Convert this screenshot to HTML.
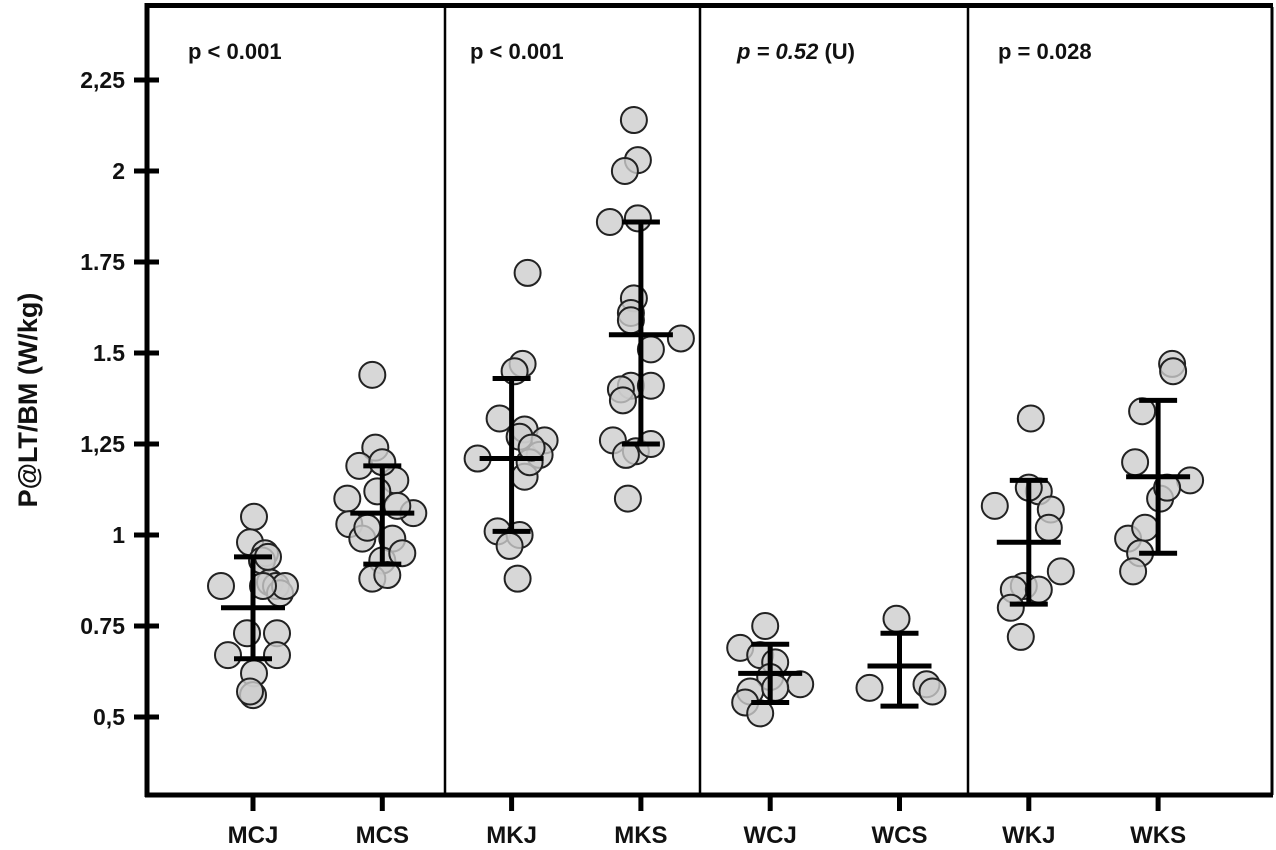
<!DOCTYPE html>
<html><head><meta charset="utf-8"><style>
html,body{margin:0;padding:0;background:#fff}
svg{display:block;font-family:"Liberation Sans",Arial,sans-serif}
</style></head><body>
<svg id="chart" width="1276" height="850" viewBox="0 0 1276 850" xmlns="http://www.w3.org/2000/svg">
<g id="frame"></g>
<g id="marks"></g>
<text transform="translate(37,400) rotate(-90)" text-anchor="middle" font-size="27" font-weight="bold" fill="#111">P@LT/BM (W/kg)</text>
<text x="188" y="59" font-size="22" font-weight="bold" fill="#111">p &lt; 0.001</text>
<text x="470" y="59" font-size="22" font-weight="bold" fill="#111">p &lt; 0.001</text>
<text x="737" y="59" font-size="22" font-weight="bold" fill="#111"><tspan font-style="italic">p = 0.52</tspan> (U)</text>
<text x="998" y="59" font-size="22" font-weight="bold" fill="#111">p = 0.028</text>
</svg>
<script>
const categories = ["MCJ","MCS","MKJ","MKS","WCJ","WCS","WKJ","WKS"];
const yTicks = [0.5,0.75,1,1.25,1.5,1.75,2,2.25];
const yTickLabels = ["0,5","0.75","1","1,25","1.5","1.75","2","2,25"];
const means = [0.80,1.06,1.21,1.55,0.62,0.64,0.98,1.16];
const sdLow = [0.66,0.92,1.01,1.25,0.54,0.53,0.81,0.95];
const sdHigh = [0.94,1.19,1.43,1.86,0.70,0.73,1.15,1.37];
const ptsMCJ = [1.05,0.98,0.95,0.93,0.87,0.86,0.86,0.84,0.86,0.73,0.73,0.67,0.67,0.62,0.56,0.57,0.94,0.86];
const jitMCJ = [1,-3,12,9,17,-32,23,27,32,-6,24,-25,24,1,0,-3,15,10];
const ptsMCS = [1.44,1.24,1.19,1.15,1.10,1.06,1.03,1.12,0.99,0.93,0.88,0.89,0.99,1.20,1.08,0.95,1.02];
const jitMCS = [-10,-7,-23,13,-35,31,-33,-5,10,0,-10,5,-20,0,15,20,-15];
const ptsMKJ = [1.72,1.47,1.45,1.32,1.29,1.21,1.27,1.26,1.22,1.16,1.20,1.01,1.00,0.97,0.88,1.24];
const jitMKJ = [16,11,3,-12,13,-34,8,33,28,13,18,-14,8,-2,6,20];
const ptsMKS = [2.14,2.03,2.00,1.86,1.87,1.65,1.61,1.59,1.54,1.51,1.41,1.41,1.40,1.37,1.26,1.23,1.25,1.22,1.10];
const jitMKS = [-7,-3,-16,-31,-3,-7,-10,-10,40,10,-10,10,-20,-18,-28,-5,10,-15,-13];
const ptsWCJ = [0.75,0.69,0.67,0.65,0.61,0.59,0.57,0.54,0.51,0.58];
const jitWCJ = [-5,-30,-10,5,0,30,-20,-25,-10,5];
const ptsWCS = [0.77,0.58,0.59,0.57];
const jitWCS = [-3,-30,27,33];
const ptsWKJ = [1.32,1.08,1.12,1.07,1.02,0.90,0.86,0.85,0.85,0.80,0.72,1.13];
const jitWKJ = [2,-34,10,22,20,32,-5,-15,10,-18,-8,0];
const ptsWKS = [1.47,1.45,1.34,1.20,1.10,1.15,1.13,0.99,1.02,0.95,0.90];
const jitWKS = [14,15,-16,-23,2,32,9,-30,-13,-18,-25];
const allPts = [ptsMCJ,ptsMCS,ptsMKJ,ptsMKS,ptsWCJ,ptsWCS,ptsWKJ,ptsWKS];
const allJit = [jitMCJ,jitMCS,jitMKJ,jitMKS,jitWCJ,jitWCS,jitWKJ,jitWKS];

const NS="http://www.w3.org/2000/svg";
const L=147,R=1272,T=7,B=795;
function yS(v){return 717-(v-0.5)*364;}
const catX0=253, catStep=129.3;
function xS(i){return catX0+i*catStep;}
function mk(tag,attrs,parent){const e=document.createElementNS(NS,tag);for(const k in attrs)e.setAttribute(k,attrs[k]);parent.appendChild(e);return e;}
const frame=document.getElementById('frame'), marks=document.getElementById('marks');

let e;
e=mk('rect',{x:L,y:T,width:R-L,height:B-T,fill:'none',stroke:'#000','stroke-width':2},frame);


e=mk('line',{x1:L,y1:T-2,x2:R+1,y2:T-2,stroke:'#000','stroke-width':4},frame);


e=mk('line',{x1:R,y1:T,x2:R,y2:B,stroke:'#000','stroke-width':3},frame);


e=mk('line',{x1:L,y1:T-4,x2:L,y2:B+2,stroke:'#000','stroke-width':5},frame);


e=mk('line',{x1:L-2,y1:B,x2:R+1,y2:B,stroke:'#000','stroke-width':5},frame);


[445,700,968].forEach(function(x){
  const d=mk('line',{x1:x,y1:T,x2:x,y2:B,stroke:'#000','stroke-width':2.5},frame);
  
  
});
yTicks.forEach(function(v,i){
  const t=mk('line',{x1:L-13,y1:yS(v),x2:L+12,y2:yS(v),stroke:'#000','stroke-width':5},frame);
  
  
  const tx=mk('text',{x:L-22,y:yS(v)+8,'text-anchor':'end','font-size':23,'font-weight':'bold',fill:'#111'},frame);
  tx.textContent=yTickLabels[i];
  
  
});
categories.forEach(function(c,i){
  const t=mk('line',{x1:xS(i),y1:B,x2:xS(i),y2:B+16,stroke:'#000','stroke-width':5},frame);
  
  
  const tx=mk('text',{x:xS(i),y:843,'text-anchor':'middle','font-size':24,'font-weight':'bold',fill:'#111'},frame);
  tx.textContent=c;
  
  
});
allPts.forEach(function(pts,i){
  pts.forEach(function(v,j){
    const c=mk('circle',{cx:xS(i)+allJit[i][j],cy:yS(v),r:13,fill:'rgba(205,205,205,0.8)',stroke:'#222','stroke-width':2},marks);
    
    
  });
});
categories.forEach(function(c,i){
  const x=xS(i);
  const g=mk('g',{stroke:'#000','stroke-width':5},marks);
  
  
  mk('line',{x1:x,y1:yS(sdHigh[i]),x2:x,y2:yS(sdLow[i])},g);
  mk('line',{x1:x-19,y1:yS(sdHigh[i]),x2:x+19,y2:yS(sdHigh[i])},g);
  mk('line',{x1:x-19,y1:yS(sdLow[i]),x2:x+19,y2:yS(sdLow[i])},g);
  const m=mk('line',{x1:x-32,y1:yS(means[i]),x2:x+32,y2:yS(means[i])},g);
  
  
});
</script>
</body></html>
